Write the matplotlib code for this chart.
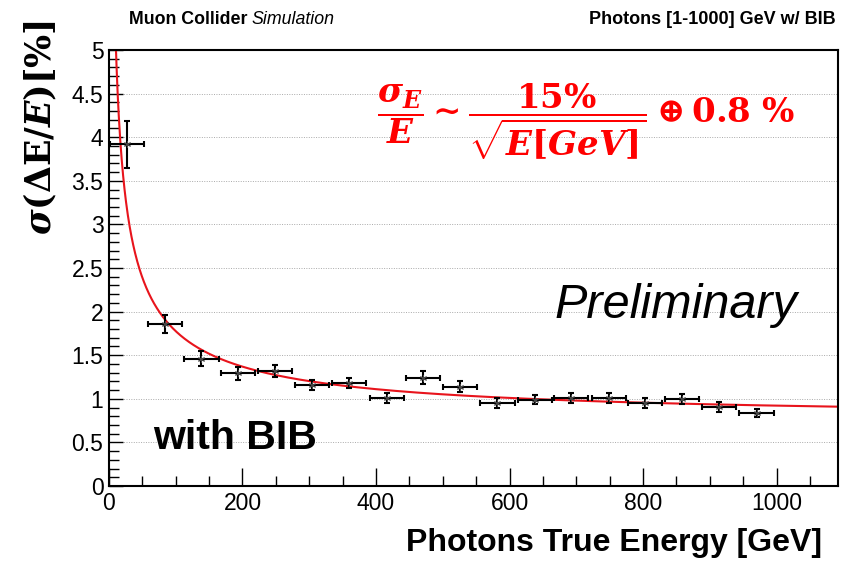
import numpy as np
import matplotlib
matplotlib.use("Agg")
import matplotlib.pyplot as plt
from matplotlib.ticker import MultipleLocator

# Datos
energia = [27, 83.5, 138.6, 193.5, 248.5, 304.5, 360, 416, 471, 526,
           582, 637.5, 692.6, 748.5, 803.5, 858.6, 913.5, 970]
resolucion = [3.92, 1.86, 1.46, 1.29, 1.32, 1.16, 1.18, 1.01, 1.24, 1.14,
              0.95, 0.99, 1.01, 1.01, 0.95, 1.00, 0.91, 0.84]
errorY = [0.27, 0.10, 0.085, 0.07, 0.07, 0.057, 0.06, 0.06, 0.075, 0.063,
          0.055, 0.055, 0.057, 0.06, 0.055, 0.06, 0.057, 0.045]
errorX = [25.5] * len(energia)

# parametros del ajuste: sigma/E = a/sqrt(E) (+) b
a_fit = 16.0
b_fit = 0.77

plt.rcParams['font.family'] = ['Liberation Sans', 'DejaVu Sans']
plt.rcParams['mathtext.fontset'] = 'custom'
plt.rcParams['mathtext.rm'] = 'DejaVu Serif:bold'
plt.rcParams['mathtext.bf'] = 'DejaVu Serif:bold'
plt.rcParams['mathtext.it'] = 'DejaVu Serif:bold:italic'

fig = plt.figure(figsize=(8.46, 5.63), dpi=100)
ax = fig.add_axes([0.1288, 0.1368, 0.8617, 0.7744])

# curva de ajuste
E = np.linspace(1, 1092, 2000)
ax.plot(E, np.sqrt(a_fit**2 / E + b_fit**2), color='#e8141c', lw=1.5, zorder=2)

ax.errorbar(energia, resolucion, xerr=errorX, yerr=errorY, fmt='none',
            ecolor='black', elinewidth=1.5, capsize=2, capthick=1.5, zorder=3)
ax.plot(energia, resolucion, ls='none', marker=(6, 2, 0), ms=5, color='#444444',
        mew=0.7, zorder=4)

ax.set_xlim(0, 1092)
ax.set_ylim(0, 5)
ax.xaxis.set_major_locator(MultipleLocator(200))
ax.xaxis.set_minor_locator(MultipleLocator(50))
ax.yaxis.set_minor_locator(MultipleLocator(0.1))
ax.set_yticks([0, 0.5, 1, 1.5, 2, 2.5, 3, 3.5, 4, 4.5, 5])
ax.set_yticklabels(['0', '0.5', '1', '1.5', '2', '2.5', '3', '3.5', '4', '4.5', '5'])
ax.tick_params(which='major', direction='in', length=13, width=1, labelsize=16.5, pad=4)
ax.tick_params(which='minor', direction='in', length=7, width=1)
ax.tick_params(axis='y', which='major', length=10)
for s in ax.spines.values():
    s.set_linewidth(1.5)

ax.yaxis.grid(True, which='major', ls=(0, (1, 1.5)), color='#aaaaaa', lw=0.7)
ax.set_axisbelow(True)

fig.text(822 / 846, 1 - 543 / 563, 'Photons True Energy [GeV]', fontsize=23,
         fontweight='bold', ha='right', va='center')
fig.text(40 / 846, 1 - 20 / 563, r'$\sigma(\mathrm{\Delta E}/E)$[%]', fontsize=25,
         fontweight='bold', family='DejaVu Serif', rotation=90, ha='center', va='top')

t1 = fig.text(0.152, 0.965, 'Muon Collider ', fontsize=12.8, fontweight='bold', va='center')
fig.canvas.draw()
bb = t1.get_window_extent()
fig.text(bb.x1 / fig.bbox.width, 0.965, 'Simulation', fontsize=12.8, style='italic', va='center')
fig.text(0.988, 0.965, 'Photons [1-1000] GeV w/ BIB', fontsize=13, fontweight='bold',
         va='center', ha='right')

ax.text(0.945, 0.415, 'Preliminary', transform=ax.transAxes, fontsize=35, style='italic',
        ha='right', va='center')
ax.text(0.06, 0.11, 'with BIB', transform=ax.transAxes, fontsize=29.5, fontweight='bold',
        ha='left', va='center')
ax.text(0.942, 0.835, r'$\dfrac{\sigma_E}{E} \sim \dfrac{15\%}{\sqrt{E[GeV]}} \oplus 0.8\ \%$',
        transform=ax.transAxes, fontsize=24.5, color='#ff0000', ha='right', va='center')

fig.savefig('out.png', dpi=100)
